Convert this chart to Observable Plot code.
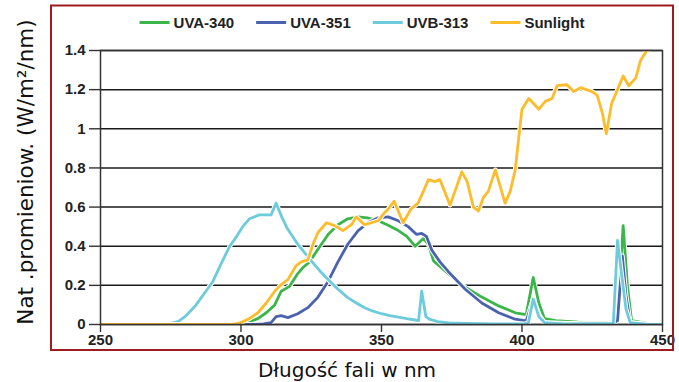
<!DOCTYPE html>
<html><head><meta charset="utf-8">
<script src="https://cdn.jsdelivr.net/npm/d3@7"></script>
<script src="https://cdn.jsdelivr.net/npm/@observablehq/plot@0.6"></script>
<style>body{margin:0;background:#fff} #chart svg{display:block}</style>
</head><body><div id="chart"></div>
<script>
const seriesNames = ["UVA-340", "UVA-351", "UVB-313", "Sunlight"];
const seriesColors = ["#3cb54b", "#4b63ae", "#6ecbdc", "#fdbc2c"];

const uva340 = [[250,0],[298,0],[300,0.005],[303,0.015],[306,0.03],[309,0.06],[312,0.10],[314.3,0.17],[317.3,0.195],[320.2,0.26],[322,0.29],[324.4,0.32],[327.4,0.385],[331,0.46],[334.5,0.51],[338,0.54],[341.7,0.55],[345,0.545],[348.8,0.53],[352,0.51],[356,0.48],[359,0.45],[362,0.40],[364.9,0.44],[366.7,0.41],[368.5,0.325],[373.8,0.26],[379.8,0.19],[385.7,0.14],[391.7,0.095],[397.6,0.06],[401.5,0.05],[404,0.24],[406,0.11],[408,0.03],[412,0.02],[420,0.012],[432,0.01],[434,0.05],[436,0.505],[437.5,0.2],[439,0.02],[445,0.005],[450,0]];

const uva351 = [[250,0],[305,0],[308,0.003],[310.7,0.01],[312.5,0.04],[314.3,0.045],[316.7,0.035],[320.2,0.055],[323.8,0.086],[327.4,0.14],[331,0.22],[334.5,0.32],[338,0.41],[341.7,0.48],[345.2,0.52],[348.8,0.545],[352.4,0.55],[356,0.53],[359.5,0.50],[362.5,0.46],[364.3,0.465],[366,0.45],[367.9,0.38],[370.8,0.32],[373.8,0.27],[379.8,0.18],[385.7,0.11],[391.7,0.06],[397.6,0.027],[401.5,0.018],[404,0.13],[406,0.05],[408,0.01],[420,0.004],[432,0.003],[434,0.02],[435.7,0.35],[437,0.15],[438.5,0.01],[445,0],[450,0]];

const uvb313 = [[250,0],[270,0],[275,0.005],[278,0.018],[280.4,0.044],[284,0.10],[287.5,0.17],[290,0.22],[292.9,0.31],[296,0.40],[298.2,0.445],[300.6,0.50],[303,0.54],[306.5,0.56],[310.7,0.56],[312.5,0.62],[314.5,0.55],[316.5,0.49],[320.2,0.41],[322.5,0.37],[325,0.325],[328,0.275],[331,0.23],[334.5,0.18],[338,0.137],[341,0.11],[344,0.086],[347,0.068],[350,0.055],[353,0.045],[356,0.038],[359,0.03],[362,0.023],[363.2,0.02],[364.3,0.17],[365.8,0.04],[367,0.027],[370,0.015],[374,0.008],[380,0.005],[390,0.003],[401,0.003],[402.3,0.01],[404,0.13],[406,0.04],[408,0.01],[415,0.003],[432.5,0.005],[434,0.43],[435.5,0.25],[437,0.08],[438.5,0.01],[445,0],[450,0]];

const sunlight = [[250,0],[296,0],[298,0.003],[300,0.01],[303,0.03],[306,0.06],[309,0.11],[312,0.17],[314,0.20],[316.7,0.23],[319.6,0.30],[321.4,0.32],[323.8,0.33],[325.6,0.41],[327.4,0.47],[330.4,0.52],[333.3,0.505],[336.3,0.48],[339.3,0.51],[341,0.55],[344,0.51],[346.4,0.52],[348.8,0.53],[351,0.57],[352.4,0.59],[354.5,0.63],[357.7,0.52],[360.5,0.59],[363,0.62],[364.9,0.68],[366.7,0.74],[369,0.73],[370.8,0.74],[374.4,0.61],[378.6,0.78],[380.5,0.73],[382.7,0.60],[384.5,0.58],[386.3,0.65],[388,0.68],[390.5,0.79],[394,0.62],[395.8,0.68],[397.6,0.79],[398.8,0.95],[400,1.10],[402.4,1.155],[406,1.10],[408.3,1.14],[410.7,1.155],[412.5,1.22],[416,1.225],[418.4,1.19],[420.8,1.21],[425,1.19],[426.8,1.17],[428.6,1.08],[430,0.975],[431.9,1.13],[434,1.2],[436,1.27],[438,1.22],[440.5,1.26],[442.2,1.35],[444,1.39],[445,1.42]];

const xTicks = [250, 300, 350, 400, 450];
const yTicks = [0, 0.2, 0.4, 0.6, 0.8, 1, 1.2, 1.4];
const xLabel = "Długość fali w nm";
const yLabel = "Nat .promieniow. (W/m²/nm)";

const seriesData = [uva340, uva351, uvb313, sunlight];
const rows = seriesData.flatMap((s, i) => s.map(([nm, v]) => ({series: seriesNames[i], nm, v})));

const lineMarks = seriesNames.flatMap((name, i) => {
  const d = rows.filter(r => r.series === name);
  return [
    Plot.line(d, {x: "nm", y: "v", stroke: "white", strokeWidth: 4.8, clip: true}),
    Plot.line(d, {x: "nm", y: "v", stroke: seriesColors[i], strokeWidth: 2.8, clip: true})
  ];
});

const plot = Plot.plot({
  width: 679, height: 382,
  marginLeft: 100, marginRight: 17, marginTop: 50, marginBottom: 58,
  style: {fontFamily: "'Liberation Sans', Arial, sans-serif", fontSize: "15px", fontWeight: "bold", color: "#222", background: "#fff"},
  x: {domain: [250, 450], label: null},
  y: {domain: [0, 1.4], label: null},
  marks: [
    Plot.gridY(yTicks, {stroke: "#1a1a1a", strokeOpacity: 1, strokeWidth: 1.5}),
    ...lineMarks,
    Plot.frame({stroke: "#333", strokeWidth: 1.5}),
    Plot.axisX(xTicks, {tickSize: 8, tickPadding: 2, stroke: "#333", strokeWidth: 1.4, tickFormat: d => String(d)}),
    Plot.axisY(yTicks, {tickSize: 11, tickPadding: 4, stroke: "#333", strokeWidth: 1.4, tickFormat: d3.format("")})
  ]
});

document.getElementById("chart").append(plot);
const svg = d3.select(plot);

// outer dark-red border
svg.append("rect")
  .attr("x", 51).attr("y", 5.5).attr("width", 622).attr("height", 344.5)
  .attr("fill", "none").attr("stroke", "#9e1b1f").attr("stroke-width", 2);

// legend
const lg = svg.append("g").attr("font-family", "'Liberation Sans', Arial, sans-serif")
  .attr("font-size", 15).attr("font-weight", "bold").attr("fill", "#222")
  .attr("text-anchor", "start");
const items = seriesNames.map((name, i) => {
  const g = lg.append("g");
  g.append("line").attr("x1", 0).attr("x2", 30).attr("y1", 0).attr("y2", 0)
    .attr("stroke", seriesColors[i]).attr("stroke-width", 3);
  const t = g.append("text").attr("x", 34).attr("y", 5.5).attr("text-anchor", "start").text(name);
  const w = 34 + t.node().getComputedTextLength();
  return {g, w};
});
const gap = 22;
const total = d3.sum(items, d => d.w) + gap * (items.length - 1);
let cx = 362 - total / 2;
items.forEach(it => { it.g.attr("transform", `translate(${cx},22.5)`); cx += it.w + gap; });

// axis titles
svg.append("text").attr("transform", "translate(33,172) rotate(-90)")
  .attr("text-anchor", "middle").attr("font-family", "'DejaVu Sans', Verdana, sans-serif")
  .attr("font-size", 21.5).attr("font-weight", "normal").attr("fill", "#111").text(yLabel);
svg.append("text").attr("x", 347).attr("y", 377)
  .attr("text-anchor", "middle").attr("font-family", "'DejaVu Sans', Verdana, sans-serif")
  .attr("font-size", 20).attr("font-weight", "normal").attr("fill", "#111").text(xLabel);
</script>
</body></html>
